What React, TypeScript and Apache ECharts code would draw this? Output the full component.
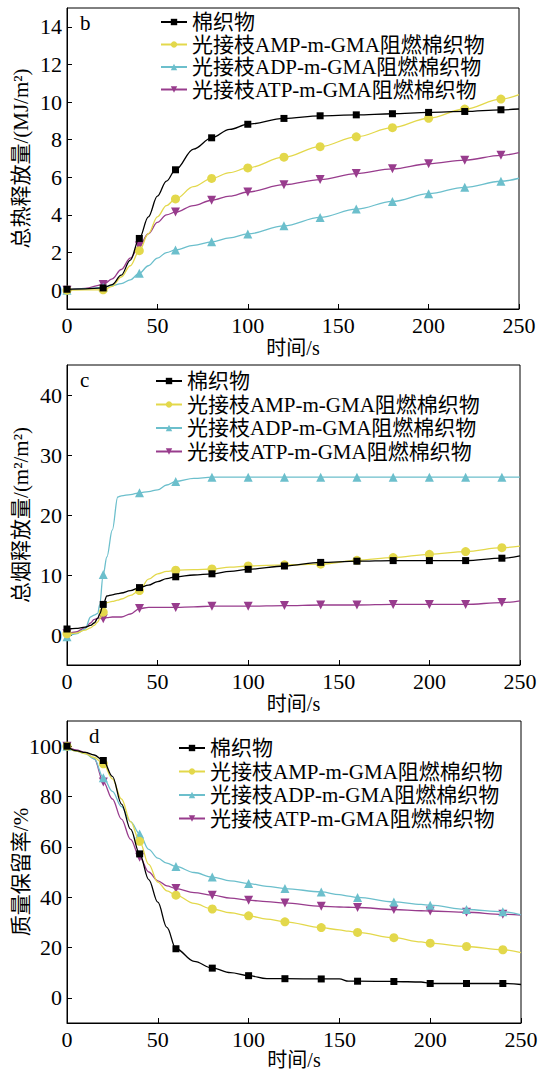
import React, { useEffect, useRef } from "react";
import * as echarts from "echarts";

const NAMES = ["棉织物", "光接枝AMP-m-GMA阻燃棉织物", "光接枝ADP-m-GMA阻燃棉织物", "光接枝ATP-m-GMA阻燃棉织物"];
const COLORS = ["#000000", "#e3d84b", "#6cbfcc", "#983c8d"];
const SYMBOLS = ["rect", "circle", "triangle", "path://M0,0 L10,0 L5,9 Z"];
const SYMBOL_SIZES = [7, 9, 9, 9];

// Panel b: total heat release (MJ/m2)
const T_B = [0, 10, 20, 25, 30, 35, 40, 45, 50, 55, 60, 70, 80, 90, 100, 120, 140, 160, 180, 200, 220, 240, 250];
const B_COTTON = [0.05, 0.07, 0.12, 0.3, 0.8, 1.6, 2.75, 3.9, 5.0, 5.8, 6.4, 7.5, 8.1, 8.55, 8.82, 9.13, 9.27, 9.32, 9.38, 9.45, 9.5, 9.59, 9.63];
const B_AMP = [0, 0.02, 0.02, 0.2, 0.7, 1.3, 2.1, 3.0, 3.9, 4.5, 4.85, 5.5, 5.94, 6.25, 6.5, 7.07, 7.63, 8.15, 8.64, 9.14, 9.63, 10.16, 10.4];
const B_ADP = [0, 0.08, 0.15, 0.25, 0.35, 0.55, 0.9, 1.3, 1.7, 2.0, 2.14, 2.38, 2.57, 2.78, 2.99, 3.42, 3.87, 4.31, 4.72, 5.13, 5.47, 5.79, 5.95];
const B_ATP = [0, 0.1, 0.3, 0.6, 1.1, 1.7, 2.35, 3.0, 3.6, 4.0, 4.15, 4.5, 4.78, 5.0, 5.22, 5.61, 5.88, 6.2, 6.45, 6.72, 6.91, 7.17, 7.31];

// Panel c: total smoke release (m2/m2)
const T_C = [0, 5, 10, 13, 15, 17, 18, 20, 22, 25, 28, 30, 35, 40, 45, 50, 55, 60, 70, 80, 90, 100, 120, 140, 160, 180, 200, 220, 240, 250];
const C_COTTON = [1.0, 1.1, 1.3, 1.6, 2.0, 2.8, 3.5, 5.1, 6.5, 6.7, 6.9, 7.0, 7.4, 7.9, 8.3, 8.9, 9.4, 9.7, 10.0, 10.2, 10.6, 10.95, 11.5, 12.1, 12.3, 12.4, 12.4, 12.4, 12.8, 13.2];
const C_AMP = [0.2, 0.3, 0.8, 1.2, 1.6, 2.2, 2.7, 3.8, 5.4, 5.6, 5.8, 6.0, 6.6, 7.4, 9.3, 10.2, 10.6, 10.8, 10.9, 11.0, 11.3, 11.5, 11.7, 11.8, 12.45, 12.9, 13.45, 13.9, 14.55, 14.8];
const C_ADP = [-0.3, 0.2, 1.0, 3.0, 3.3, 3.6, 5.0, 10.1, 13.0, 17.5, 23.0, 23.2, 23.4, 23.7, 23.9, 24.2, 25.0, 25.6, 26.1, 26.3, 26.3, 26.3, 26.3, 26.3, 26.3, 26.3, 26.3, 26.3, 26.3, 26.3];
const C_ATP = [0.2, 0.5, 1.2, 2.0, 2.6, 2.8, 2.8, 2.7, 2.9, 3.0, 3.0, 3.0, 3.5, 4.4, 4.6, 4.6, 4.6, 4.6, 4.7, 4.8, 4.8, 4.8, 4.9, 5.0, 5.0, 5.1, 5.1, 5.1, 5.4, 5.7];

// Panel d: mass retention (%)
const T_D = [0, 5, 10, 15, 20, 25, 30, 35, 40, 45, 50, 55, 60, 70, 80, 90, 100, 110, 120, 140, 150, 155, 160, 180, 195, 200, 220, 240, 250];
const D_COTTON = [100, 98.2, 97.5, 96.5, 94.3, 88, 77, 67, 57.2, 47, 38, 28, 19.5, 14.5, 11.8, 10, 8.8, 7.6, 7.6, 7.5, 7.5, 6.6, 6.6, 6.5, 6.3, 5.7, 5.7, 5.7, 5.3];
const D_AMP = [100, 98, 97, 95.5, 93, 87, 79, 70, 62.2, 53, 46, 42.5, 40.8, 37.5, 35.3, 33.8, 32.6, 31.3, 30.2, 27.9, 27, 26.5, 26.0, 23.9, 22.2, 21.7, 20.4, 19.1, 18.0];
const D_ADP = [100, 98, 97, 95, 87.5, 82, 76, 70, 65.1, 59, 55.5, 53.5, 52.2, 49.8, 48.0, 46.5, 45.4, 44.3, 43.4, 42.1, 41, 40.4, 39.9, 38.1, 37.1, 36.8, 35.1, 34.2, 33.0];
const D_ATP = [100, 98.5, 97.5, 95, 85.8, 79, 71, 63, 55.9, 50, 46.5, 44.5, 43.4, 41.8, 40.8, 39.6, 38.8, 38.2, 37.7, 36.4, 36.1, 36, 35.9, 35.1, 34.6, 34.5, 34.0, 33.2, 32.9];

const B_TICKS = [0, 2, 4, 6, 8, 10, 12, 14];
const C_TICKS = [0, 10, 20, 30, 40];
const D_TICKS = [0, 20, 40, 60, 80, 100];

const FONT = "'Liberation Serif', 'Noto Sans CJK SC', serif";

function buildData(t: number[], v: number[]) {
  return t.map((x, i) =>
    x % 20 === 0 && x <= 240 ? { value: [x, v[i]] } : { value: [x, v[i]], symbol: "none" }
  );
}

export default function App() {
  const ref = useRef<HTMLDivElement>(null);
  useEffect(() => {
    if (!ref.current) return;
    const chart = echarts.init(ref.current, null, { renderer: "svg" });

    const grids = [
      { left: 67, right: 20, top: 8, height: 301 },
      { left: 67, right: 19, top: 365, height: 300 },
      { left: 67, right: 18, top: 721, height: 302 },
    ];
    const yCfg = [
      { min: -1, max: 15, ticks: B_TICKS, name: "总热释放量/(MJ/m²)" },
      { min: -5, max: 45, ticks: C_TICKS, name: "总烟释放量/(m²/m²)" },
      { min: -10, max: 110, ticks: D_TICKS, name: "质量保留率/%" },
    ];
    const panels = [
      { t: T_B, vals: [B_COTTON, B_AMP, B_ADP, B_ATP] },
      { t: T_C, vals: [C_COTTON, C_AMP, C_ADP, C_ATP] },
      { t: T_D, vals: [D_COTTON, D_AMP, D_ADP, D_ATP] },
    ];
    const legendPos = [
      { left: 160, top: 11, gap: 0.5 },
      { left: 155, top: 370, gap: 1.5 },
      { left: 178, top: 737, gap: 1.5 },
    ];
    const labels = [
      { text: "b", x: 80, y: 12 },
      { text: "c", x: 80, y: 369 },
      { text: "d", x: 89, y: 725 },
    ];

    const series: any[] = [];
    panels.forEach((p, gi) => {
      p.vals.forEach((v, si) => {
        series.push({
          type: "line",
          name: NAMES[si],
          xAxisIndex: gi,
          yAxisIndex: gi,
          data: buildData(p.t, v),
          smooth: 0.35,
          smoothMonotone: "x",
          symbol: SYMBOLS[si],
          symbolSize: SYMBOL_SIZES[si],
          showAllSymbol: true,
          lineStyle: { color: COLORS[si], width: 1.3 },
          itemStyle: { color: COLORS[si] },
          z: 10 - si,
        });
      });
    });

    chart.setOption({
      animation: false,
      backgroundColor: "#ffffff",
      grid: grids.map((g) => ({
        ...g,
        outerBoundsMode: "none",
        containLabel: false,
        show: true,
        borderColor: "#000",
        borderWidth: 1,
        backgroundColor: "transparent",
      })),
      xAxis: grids.map((_, gi) => ({
        type: "value",
        gridIndex: gi,
        min: 0,
        max: 250,
        interval: 50,
        name: "时间/s",
        nameLocation: "middle",
        nameGap: gi === 2 ? 27 : 29,
        nameMoveOverlap: false,
        nameTextStyle: { fontFamily: FONT, fontSize: 20, color: "#000" },
        axisLine: { onZero: false, lineStyle: { color: "#000", width: 1 } },
        axisTick: { inside: true, length: 5, lineStyle: { color: "#000" } },
        axisLabel: { fontFamily: FONT, fontSize: 22, color: "#000", margin: 5 },
        splitLine: { show: false },
      })),
      yAxis: yCfg.map((y, gi) => ({
        type: "value",
        gridIndex: gi,
        min: y.min,
        max: y.max,
        name: y.name,
        nameLocation: "middle",
        nameGap: 36,
        nameMoveOverlap: false,
        nameTextStyle: { fontFamily: FONT, fontSize: 21, color: "#000" },
        axisLine: { onZero: false, lineStyle: { color: "#000", width: 1 } },
        axisTick: { inside: true, length: 5, lineStyle: { color: "#000" }, customValues: y.ticks },
        axisLabel: { fontFamily: FONT, fontSize: 22, color: "#000", margin: 5, customValues: y.ticks },
        splitLine: { show: false },
      })),
      legend: legendPos.map((l) => ({
        orient: "vertical",
        left: l.left,
        top: l.top,
        itemGap: l.gap,
        itemWidth: 26,
        itemHeight: 8,
        padding: 0,
        data: NAMES,
        selectedMode: false,
        textStyle: { fontFamily: FONT, fontSize: 21, color: "#000", lineHeight: 22 },
      })),
      graphic: labels.map((lb) => ({
        type: "text",
        left: lb.x,
        top: lb.y,
        style: { text: lb.text, fontFamily: FONT, fontSize: 21, fill: "#000" },
      })),
      series,
    });
    return () => chart.dispose();
  }, []);
  return <div ref={ref} style={{ position: "absolute", left: 0, top: 0, width: 539, height: 1071 }} />;
}
